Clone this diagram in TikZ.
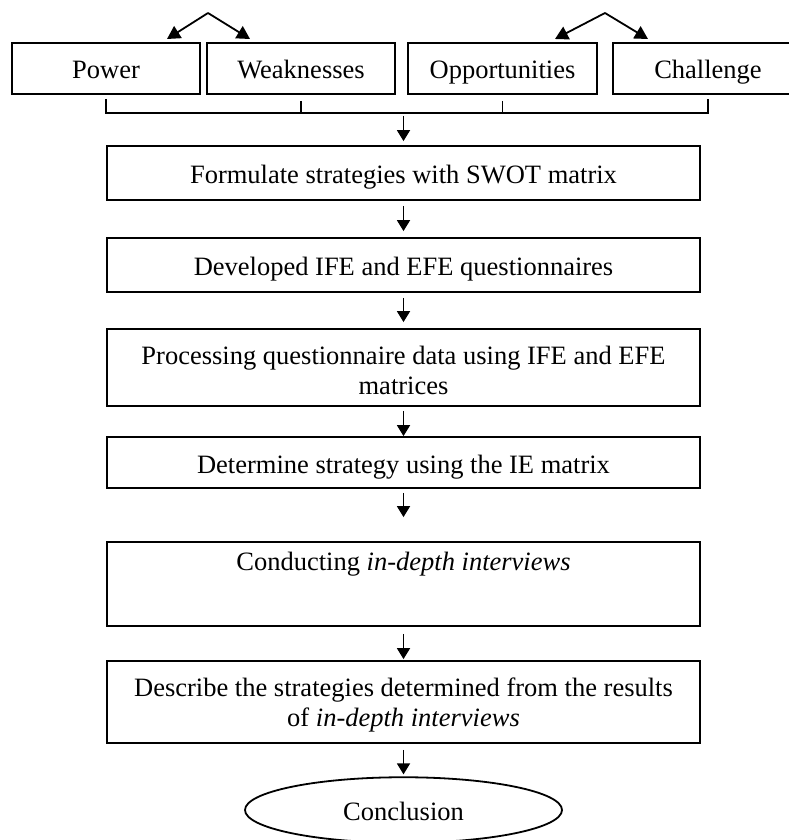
\documentclass[tikz,border=0pt]{standalone}
\usepackage{fontspec}
\setmainfont{Liberation Serif}
\usetikzlibrary{arrows.meta,shapes.geometric}
\begin{document}
\begin{tikzpicture}[x=1pt,y=-1pt,
  box/.style={draw,line width=1.8pt,inner sep=0pt,align=center,font=\fontsize{26.5}{30}\selectfont},
  oneline/.style={text height=24pt,text depth=3pt},
  topbox/.style={box,oneline,minimum height=51pt},
  flow/.style={box,minimum width=593pt},
  link/.style={line width=1.8pt},
  arr/.style={line width=1.8pt,-{Triangle[length=11pt,width=13pt]}},
  arrtop/.style={line width=1.8pt,-{Triangle[length=13pt,width=14pt]}}]
\useasboundingbox (0,0) rectangle (789,840);
\clip (0,0) rectangle (789,840);
% top row
\node[topbox,minimum width=188pt] (pw) at (106,68.5) {Power};
\node[topbox,minimum width=188pt] (wk) at (301,68.5) {Weaknesses};
\node[topbox,minimum width=189pt] (op) at (502.5,68.5) {Opportunities};
\node[topbox,minimum width=190pt] (ch) at (708,68.5) {Challenge};
% flow boxes
\node[flow,oneline,minimum height=54pt] (f1) at (403.5,173) {Formulate strategies with SWOT matrix};
\node[flow,oneline,minimum height=54pt] (f2) at (403.5,265) {Developed IFE and EFE questionnaires};
\node[flow,minimum height=77pt] (f3) at (403.5,367.5) {\rule{0pt}{24pt}Processing questionnaire data using IFE and EFE\\matrices};
\node[flow,oneline,minimum height=51pt] (f4) at (403.5,462.5) {Determine strategy using the IE matrix};
\node[flow,text height=24pt,text depth=52pt,minimum height=84pt] (f5) at (403.5,584) {Conducting \textit{in-depth interviews}};
\node[flow,minimum height=82pt] (f6) at (403.5,702) {\rule{0pt}{24pt}Describe the strategies determined from the results\\of \textit{in-depth interviews}};
\node[draw,ellipse,line width=1.8pt,inner sep=0pt,minimum width=317pt,minimum height=65.5pt,oneline,font=\fontsize{26.5}{30}\selectfont] (con) at (403.5,810) {Conclusion};
% top arrows
\coordinate (a1) at (208,13);
\coordinate (t1) at (167,39);
\coordinate (t2) at (250,39);
\coordinate (a2) at (605,13);
\coordinate (t3) at (555,39);
\coordinate (t4) at (648,39);
\draw[arrtop] (a1) -- (t1);
\draw[arrtop] (a1) -- (t2);
\draw[arrtop] (a2) -- (t3);
\draw[arrtop] (a2) -- (t4);
% bracket
\coordinate (bar) at (0,113);
\coordinate (barmid) at (0,116);
\draw[link] ([yshift=-4pt]pw.south) -- (pw.south |- bar) -- (ch.south |- bar) -- ([yshift=-4pt]ch.south);
\draw[link] ([yshift=-6pt]wk.south) -- (wk.south |- bar);
\draw[link] ([yshift=-6pt]op.south) -- (op.south |- bar);
\draw[arr,shorten >=4pt] (f1.north |- barmid) -- (f1.north);
% flow arrows
\draw[arr,shorten <=5pt,shorten >=6pt] (f1.south) -- (f2.north);
\draw[arr,shorten <=5pt,shorten >=6pt] (f2.south) -- (f3.north);
\draw[arr,shorten <=4pt] (f3.south) -- (f4.north);
\draw[arr,shorten <=4pt,shorten >=24pt] (f4.south) -- (f5.north);
\draw[arr,shorten <=7pt,shorten >=1pt] (f5.south) -- (f6.north);
\draw[arr,shorten <=6pt,shorten >=2pt] (f6.south) -- (con.north);
\end{tikzpicture}
\end{document}
